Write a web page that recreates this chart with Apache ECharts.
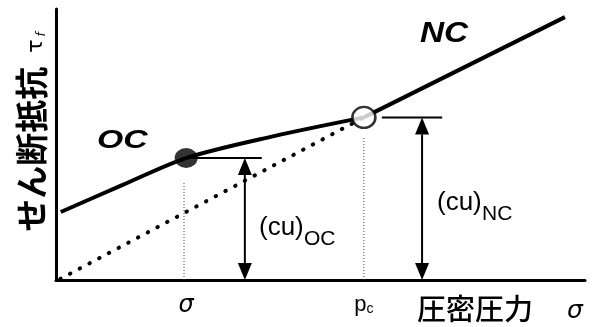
<!DOCTYPE html>
<html>
<head>
<meta charset="utf-8">
<script src="https://cdn.jsdelivr.net/npm/echarts@6/dist/echarts.min.js"></script>
<style>
  html, body { margin: 0; padding: 0; background: #fff; }
  #chart { width: 600px; height: 327px; }
</style>
</head>
<body>
<div id="chart"></div>
<script>
// Overconsolidated branch (OC) of the shear strength curve
const ocSigma = [0.09, 1.25, 2.46, 4.1, 5.82];
const ocTau = [2.51, 3.5, 4.5, 5.3, 6.0];
// Normally consolidated branch (NC)
const ncSigma = [5.82, 9.62];
const ncTau = [6.0, 9.7];
// Line through the origin to the pre-consolidation point
const originSigma = [0.08, 5.82];
const originTau = [0.04, 6.0];
// Current stress state and pre-consolidation pressure
const stateSigma = 2.46;
const stateTau = 4.5;
const pcSigma = 5.82;
const pcTau = 6.0;
// Dotted drop lines
const guideSigma = [2.42, 5.82];
const guideTop = [3.62, 5.24];
// Undrained strength arrows: [sigma, from, to]
const arrowSigma = [3.57, 6.92];
const arrowTau = [4.5, 6.0];
// Short horizontal lines marking arrow tops: [start, end]
const capStart = [2.46, 6.16];
const capEnd = [3.89, 7.30];
// Axis tick labels
const tickValues = [2.46, 5.82];
const tickLabels = ['σ', 'pc'];

const pairs = (xs, ys) => xs.map((x, i) => [x, ys[i]]);

const chart = echarts.init(document.getElementById('chart'), null, { renderer: 'canvas' });

const latin = 'Liberation Sans, Arial, sans-serif';
const jp = '"Noto Sans CJK JP", sans-serif';

const guideSeries = guideSigma.map((s, i) => ({
  type: 'line',
  data: [[s, 0], [s, guideTop[i]]],
  symbol: 'none',
  silent: true,
  lineStyle: { color: '#444', width: 1, type: [1, 2] },
  z: 1
}));

const capSeries = capStart.map((s, i) => ({
  type: 'line',
  data: [[s, arrowTau[i]], [capEnd[i], arrowTau[i]]],
  symbol: 'none',
  silent: true,
  lineStyle: { color: '#000', width: 2 },
  z: 2
}));

function label(x, y, text, style) {
  return {
    type: 'text', x: x, y: y,
    style: Object.assign({ text: text, fill: '#000', verticalAlign: 'middle' }, style)
  };
}

const option = {
  animation: false,
  backgroundColor: '#fff',
  grid: { left: 56, right: 15, top: 9, bottom: 47 },
  xAxis: {
    type: 'value',
    min: 0,
    max: 10,
    splitLine: { show: false },
    axisTick: { show: false },
    axisLine: { lineStyle: { color: '#000', width: 3 } },
    axisLabel: {
      customValues: tickValues,
      margin: 14,
      color: '#000',
      formatter: (v) => {
        const i = tickValues.findIndex(t => Math.abs(t - v) < 1e-6);
        if (i === 0) return '{s|' + tickLabels[0] + '}';
        if (i === 1) return '{p|' + tickLabels[1][0] + '}{c|' + tickLabels[1][1] + '}';
        return '';
      },
      rich: {
        s: { fontFamily: 'DejaVu Sans', fontStyle: 'italic', fontSize: 24, color: '#000', verticalAlign: 'bottom' },
        p: { fontFamily: latin, fontSize: 22, color: '#000', verticalAlign: 'bottom' },
        c: { fontFamily: latin, fontSize: 14, color: '#000', verticalAlign: 'bottom' }
      }
    }
  },
  yAxis: {
    type: 'value',
    min: 0,
    max: 10,
    splitLine: { show: false },
    axisTick: { show: false },
    axisLabel: { show: false },
    axisLine: { show: true, lineStyle: { color: '#000', width: 3 } }
  },
  graphic: [
    {
      type: 'text',
      x: 31, y: 132,
      rotation: Math.PI / 2,
      style: {
        text: '{a|せん断抵抗}{b|  τ}{c|f}',
        align: 'center',
        verticalAlign: 'middle',
        rich: {
          a: { fontFamily: jp, fontWeight: 'bold', fontSize: 33, fill: '#000', verticalAlign: 'bottom' },
          b: { fontFamily: 'DejaVu Sans', fontSize: 22, fill: '#000', verticalAlign: 'bottom' },
          c: { fontFamily: 'DejaVu Sans', fontStyle: 'italic', fontSize: 12, fill: '#000', verticalAlign: 'bottom', padding: [0, 0, 0, 3] }
        }
      }
    },
    label(417, 309, '圧密圧力', { fontFamily: jp, fontWeight: 500, fontSize: 29 }),
    label(567, 311, 'σ', { fontFamily: 'DejaVu Sans', fontStyle: 'italic', fontSize: 25 }),
    Object.assign(label(97, 141, 'OC', { fontFamily: latin, fontWeight: 'bold', fontStyle: 'italic', fontSize: 26 }), { scaleX: 1.3 }),
    Object.assign(label(420, 34, 'NC', { fontFamily: latin, fontWeight: 'bold', fontStyle: 'italic', fontSize: 29 }), { scaleX: 1.15 }),
    label(259, 228, '(cu)', { fontFamily: latin, fontSize: 26 }),
    label(304, 239, 'OC', { fontFamily: latin, fontSize: 21 }),
    label(437, 203, '(cu)', { fontFamily: latin, fontSize: 26 }),
    label(482, 214, 'NC', { fontFamily: latin, fontSize: 21 })
  ],
  series: [
    ...guideSeries,
    {
      type: 'line',
      name: 'origin',
      data: pairs(originSigma, originTau),
      symbol: 'none',
      silent: true,
      lineStyle: { color: '#000', width: 4, type: [0.5, 10.5], cap: 'round' },
      z: 2
    },
    ...capSeries,
    {
      type: 'line',
      name: 'OC',
      data: pairs(ocSigma, ocTau),
      smooth: 0.3,
      symbol: 'none',
      silent: true,
      lineStyle: { color: '#000', width: 4 },
      z: 3
    },
    {
      type: 'line',
      name: 'NC',
      data: pairs(ncSigma, ncTau),
      symbol: 'none',
      silent: true,
      lineStyle: { color: '#000', width: 4 },
      z: 3
    },
    {
      type: 'custom',
      name: 'cu',
      data: arrowSigma.map((s, i) => [s, 0, arrowTau[i]]),
      silent: true,
      z: 4,
      renderItem: (params, api) => {
        const bottom = api.coord([api.value(0), api.value(1)]);
        const top = api.coord([api.value(0), api.value(2)]);
        const x = top[0];
        const w = 7, h = 17;
        return {
          type: 'group',
          children: [
            {
              type: 'line',
              shape: { x1: x, y1: top[1] + h, x2: x, y2: bottom[1] - h },
              style: { stroke: '#000', lineWidth: 2 }
            },
            {
              type: 'polygon',
              shape: { points: [[x, top[1]], [x - w, top[1] + h], [x + w, top[1] + h]] },
              style: { fill: '#000' }
            },
            {
              type: 'polygon',
              shape: { points: [[x, bottom[1]], [x - w, bottom[1] - h], [x + w, bottom[1] - h]] },
              style: { fill: '#000' }
            }
          ]
        };
      }
    },
    {
      type: 'scatter',
      name: 'state',
      data: [[stateSigma, stateTau]],
      symbol: 'circle',
      symbolSize: [23, 20],
      silent: true,
      itemStyle: { color: '#000' },
      z: 5
    },
    {
      type: 'scatter',
      name: 'pc',
      data: [[pcSigma, pcTau]],
      symbol: 'circle',
      symbolSize: [23, 21],
      silent: true,
      itemStyle: { color: '#fff', borderColor: '#000', borderWidth: 2.5 },
      z: 5
    }
  ]
};

chart.setOption(option);
</script>
</body>
</html>
